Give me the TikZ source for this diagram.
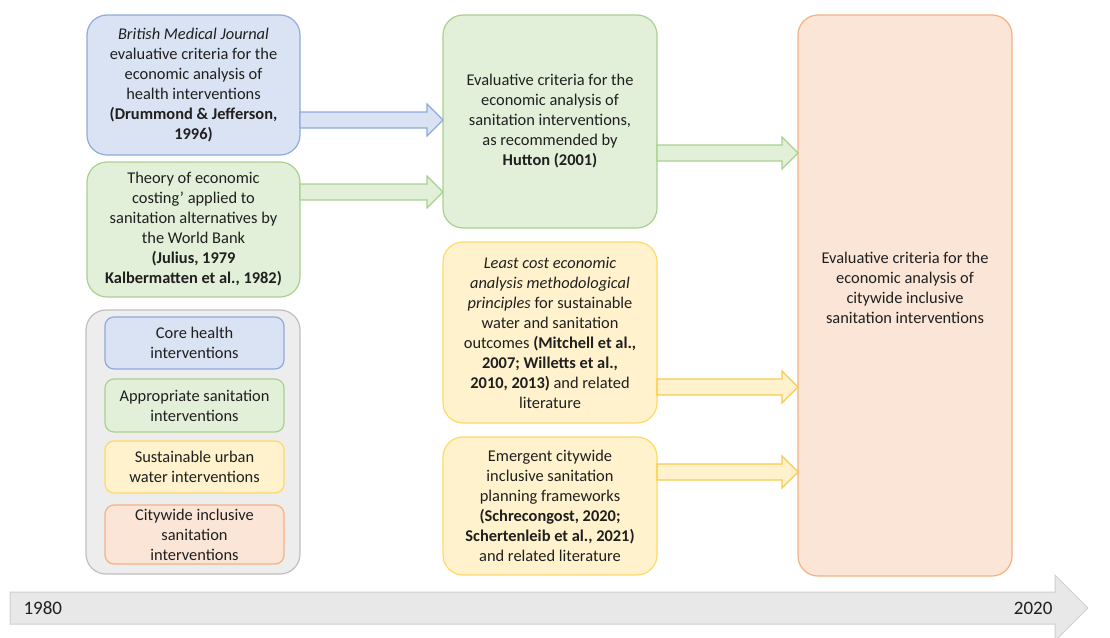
\documentclass[tikz,border=0pt]{standalone}
\usepackage{fontspec}
\setmainfont{Carlito}
\usetikzlibrary{calc}

\definecolor{txt}{HTML}{1F1F1F}
\definecolor{blueF}{HTML}{DAE3F3}
\definecolor{blueD}{HTML}{8FAADC}
\definecolor{greenF}{HTML}{E2F0D9}
\definecolor{greenD}{HTML}{A9D18E}
\definecolor{yellowF}{HTML}{FFF2CC}
\definecolor{yellowD}{HTML}{FFD966}
\definecolor{yarrowD}{HTML}{F8CB4E}
\definecolor{orangeF}{HTML}{FBE5D6}
\definecolor{orangeD}{HTML}{F4B183}
\definecolor{grayF}{HTML}{EDEDED}
\definecolor{grayD}{HTML}{BFBFBF}
\definecolor{lineF}{HTML}{E8E8E8}
\definecolor{lineD}{HTML}{CFCFCF}

% block arrow: style, start coordinate, end coordinate
\newcommand{\blockarrow}[3]{%
  \filldraw[#1] ($(#2)+(0,-8)$) -- ($(#3)+(-16,-8)$) -- ($(#3)+(-16,-16)$)
    -- (#3) -- ($(#3)+(-16,16)$) -- ($(#3)+(-16,8)$) -- ($(#2)+(0,8)$) -- cycle;}

\begin{document}
\begin{tikzpicture}[x=1pt,y=-1pt,
  font=\fontsize{16.4}{20}\selectfont, text=txt,
  box/.style={draw, line width=1.2pt, rounded corners=20pt, outer sep=0pt,
    inner sep=2pt, align=center},
  legbox/.style={box, rounded corners=9pt, minimum width=179pt},
  bluebox/.style={box, fill=blueF, draw=blueD},
  greenbox/.style={box, fill=greenF, draw=greenD},
  yellowbox/.style={box, fill=yellowF, draw=yellowD},
  orangebox/.style={box, fill=orangeF, draw=orangeD},
  barrow/.style={line width=1.1pt, line join=miter},
]
\useasboundingbox (0,0) rectangle (1110,637);

% left column
\node[bluebox, minimum width=213pt, minimum height=140pt] (bmj) at (193.5,85)
  {\textit{British Medical Journal}\\ evaluative criteria for the\\ economic analysis of\\
   health interventions\\ \textbf{(Drummond \& Jefferson,}\\ \textbf{1996)}};
\node[greenbox, minimum width=213pt, minimum height=135pt] (costing) at (193.5,229.5)
  {Theory of economic\\ costing’ applied to\\ sanitation alternatives by\\ the World Bank\\
   \textbf{(Julius, 1979}\\ \textbf{Kalbermatten et al., 1982)}};

% legend
\node[box, fill=grayF, draw=grayD, minimum width=214pt, minimum height=264pt] (legend) at (193,442) {};
\node[legbox, bluebox, rounded corners=9pt, minimum height=52pt] (lhealth) at (194.5,343)
  {Core health\\ interventions};
\node[legbox, greenbox, rounded corners=9pt, minimum height=53pt] (lapprop) at (194.5,405.5)
  {Appropriate sanitation\\ interventions};
\node[legbox, yellowbox, rounded corners=9pt, minimum height=52pt] (lsustain) at (194.5,467)
  {Sustainable urban\\ water interventions};
\node[legbox, orangebox, rounded corners=9pt, minimum height=59pt] (lcity) at (194.5,534.5)
  {Citywide inclusive\\ sanitation\\ interventions};

% middle column
\node[greenbox, minimum width=214pt, minimum height=213pt] (hutton) at (550,121.5)
  {Evaluative criteria for the\\ economic analysis of\\ sanitation interventions,\\
   as recommended by\\ \textbf{Hutton (2001)}};
\node[yellowbox, minimum width=214pt, minimum height=181pt] (leastcost) at (550,332.5)
  {\textit{Least cost economic}\\ \textit{analysis methodological}\\ \textit{principles} for sustainable\\
   water and sanitation\\ outcomes \textbf{(Mitchell et al.,}\\ \textbf{2007; Willetts et al.,}\\
   \textbf{2010, 2013)} and related\\ literature};
\node[yellowbox, minimum width=214pt, minimum height=138pt] (emergent) at (550,506)
  {Emergent citywide\\ inclusive sanitation\\ planning frameworks\\
   \textbf{(Schrecongost, 2020;}\\ \textbf{Schertenleib et al., 2021)}\\ and related literature};

% right column
\node[orangebox, minimum width=214pt, minimum height=561pt] (citywide) at (905,295.5) {};
\node[align=center] (citytext) at (905,288)
  {Evaluative criteria for the\\ economic analysis of\\ citywide inclusive\\ sanitation interventions};

% connectors
\coordinate (a1s) at (bmj.east |- 0,120);      \coordinate (a1e) at (hutton.west |- 0,120);
\coordinate (a2s) at (costing.east |- 0,192);  \coordinate (a2e) at (hutton.west |- 0,192);
\coordinate (a3s) at (hutton.east |- 0,153);   \coordinate (a3e) at (citywide.west |- 0,153);
\coordinate (a4s) at (leastcost.east |- 0,387);\coordinate (a4e) at (citywide.west |- 0,387);
\coordinate (a5s) at (emergent.east |- 0,472); \coordinate (a5e) at (citywide.west |- 0,472);
\blockarrow{barrow, fill=blueF, draw=blueD}{a1s}{a1e}
\blockarrow{barrow, fill=greenF, draw=greenD}{a2s}{a2e}
\blockarrow{barrow, fill=greenF, draw=greenD}{a3s}{a3e}
\blockarrow{barrow, fill=yellowF, draw=yarrowD}{a4s}{a4e}
\blockarrow{barrow, fill=yellowF, draw=yarrowD}{a5s}{a5e}

% timeline
\filldraw[fill=lineF, draw=lineD, line width=1pt]
  (10,592) -- (1055,592) -- (1055,575) -- (1088,608) -- (1055,641) -- (1055,624) -- (10,624) -- cycle;
\node[font=\fontsize{19}{22}\selectfont, anchor=west] (y1980) at (20,608) {1980};
\node[font=\fontsize{19}{22}\selectfont, anchor=east] (y2020) at (1056,608) {2020};
\end{tikzpicture}
\end{document}
